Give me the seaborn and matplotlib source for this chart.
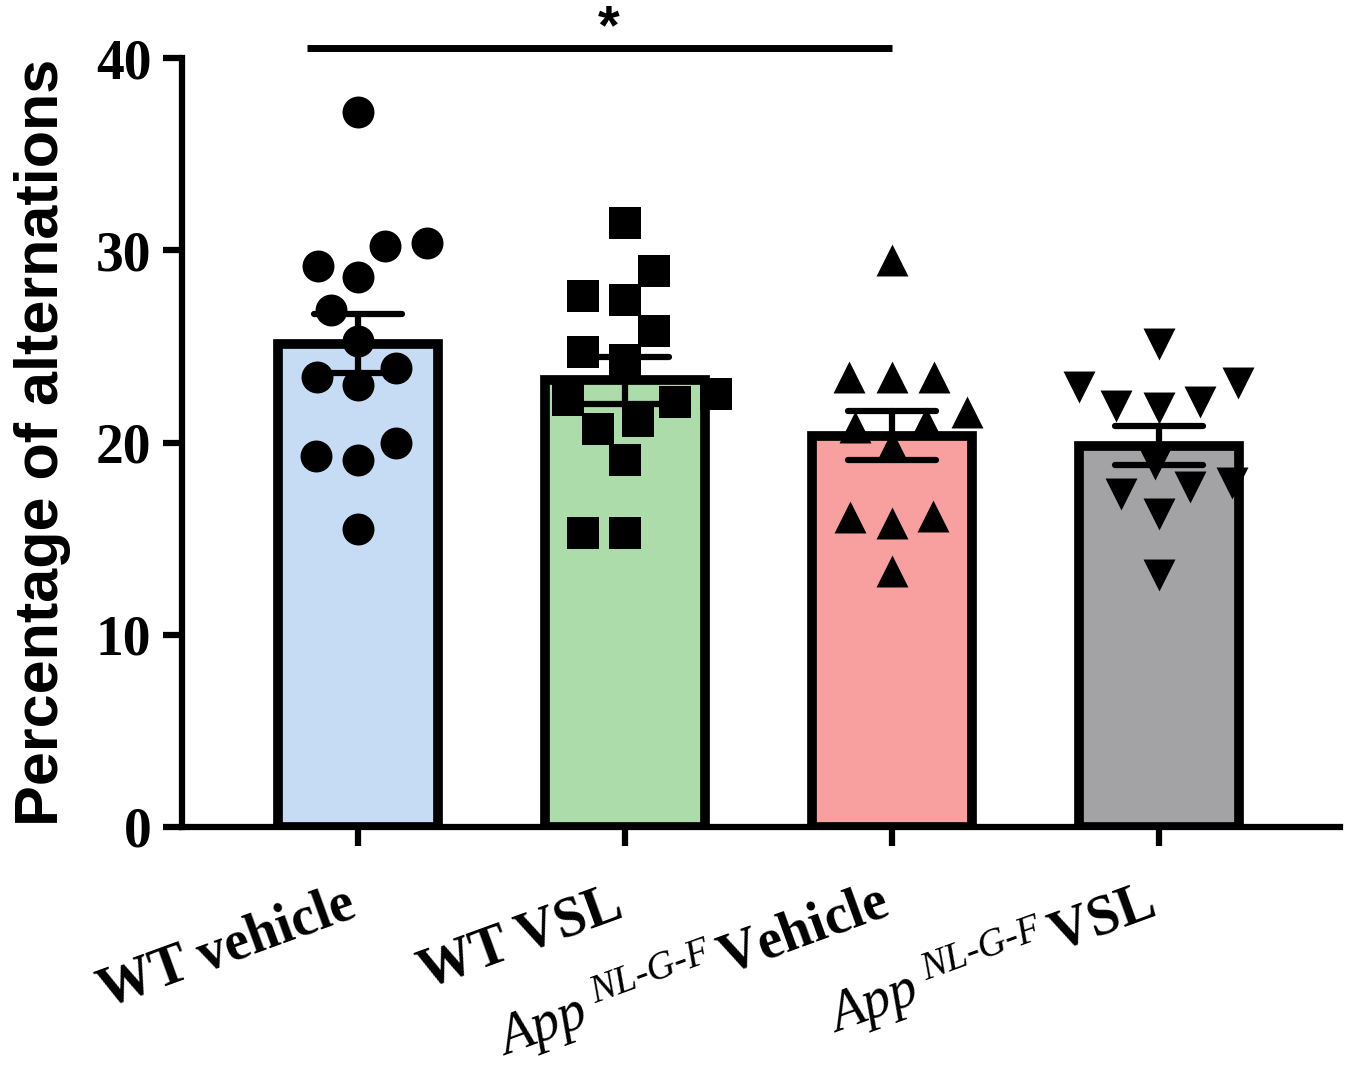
import numpy as np
import pandas as pd
import matplotlib
matplotlib.use('Agg')
import matplotlib.pyplot as plt
import seaborn as sns

# group names and the y-axis values (% alternations)
groups = ['WT vehicle', 'WT VSL', 'App vehicle', 'App VSL']
tick_labels = ['WT vehicle', 'WT VSL',
               r'$\mathit{App}^{\ \mathit{NL‐G‐F}}\,\mathbf{Vehicle}$',
               r'$\mathit{App}^{\ \mathit{NL‐G‐F}}\,\mathbf{VSL}$']

wt_vehicle = [37.2, 30.2, 30.4, 28.6, 29.2, 26.9, 25.3, 23.9, 23.0, 23.4, 19.3, 19.1, 20.0, 15.5]
wt_vsl = [31.4, 28.9, 27.4, 27.6, 25.8, 24.7, 24.3, 22.5, 22.2, 22.1, 20.7, 21.1, 19.1, 15.3, 15.3]
app_vehicle = [29.5, 23.4, 23.4, 23.4, 21.6, 21.0, 20.8, 19.8, 16.1, 15.8, 16.2, 13.3]
app_vsl = [25.1, 22.9, 23.1, 21.9, 21.8, 22.1, 18.9, 17.9, 17.3, 17.7, 16.3, 13.1]

bar_colors = ['#C6DCF5', '#ADDCAB', '#F8A09F', '#A3A3A6']
markers = ['o', 's', '^', 'v']

values = [wt_vehicle, wt_vsl, app_vehicle, app_vsl]
df = pd.DataFrame({
    'group': np.repeat(groups, [len(v) for v in values]),
    'value': np.concatenate(values),
})

sns.set_style('ticks')
plt.rcParams['font.family'] = ['Liberation Serif', 'DejaVu Sans']
plt.rcParams['mathtext.fontset'] = 'custom'
plt.rcParams['mathtext.rm'] = 'Liberation Serif'
plt.rcParams['mathtext.it'] = 'Liberation Serif:italic'
plt.rcParams['mathtext.bf'] = 'Liberation Serif:bold'
for key in ['text.color', 'axes.labelcolor', 'xtick.color', 'ytick.color', 'axes.edgecolor']:
    plt.rcParams[key] = 'black'

fig = plt.figure(figsize=(13.5, 10.75), dpi=100)
ax = fig.add_axes([0.1348, 0.2307, 0.8578, 0.7153])

sns.barplot(data=df, x='group', y='value', order=groups, hue='group',
            hue_order=groups, palette=bar_colors, saturation=1, legend=False,
            errorbar='se', capsize=0.33, width=0.6, edgecolor='black',
            linewidth=7, err_kws={'color': 'black', 'linewidth': 4.5}, ax=ax)

# swarm laid out with a roomier marker size, then markers shrunk to the real size
for g, m in zip(groups, markers):
    sns.swarmplot(data=df[df['group'] == g], x='group', y='value', order=groups,
                  marker=m, color='black', size=29, ax=ax, zorder=3)
swarms = list(ax.collections)

ax.set_xlim(-0.66, 3.68)
ax.set_ylim(0, 40)
ax.set_yticks([0, 10, 20, 30, 40])
ax.set_xticks(range(len(groups)))
ax.set_xticklabels(tick_labels)

fig.canvas.draw()
for pts in swarms:
    if 'draw' in pts.__dict__:
        del pts.draw
    pts.set_sizes([23 ** 2])

for side in ['top', 'right']:
    ax.spines[side].set_visible(False)
for side in ['left', 'bottom']:
    ax.spines[side].set_linewidth(4.5)

ax.tick_params(axis='both', width=4.5, length=14, color='black')
ax.tick_params(axis='y', labelsize=40, pad=8)
ax.tick_params(axis='x', pad=50)
for t in ax.get_yticklabels():
    t.set_fontweight('bold')
for t in ax.get_xticklabels():
    t.set_fontsize(40)
    t.set_fontweight('bold')
    t.set_rotation(20)
    t.set_ha('right')
    t.set_va('baseline')
    t.set_rotation_mode('anchor')

ax.set_xlabel('')
ax.set_ylabel('Percentage of alternations', fontsize=44, fontweight='bold',
              family='Liberation Sans')
ax.yaxis.set_label_coords(-0.096, 0.5)

# significance bar between WT vehicle and App vehicle
ax.plot([-0.19, 2.0], [40.52, 40.52], color='black', lw=5, clip_on=False,
        solid_capstyle='butt')
ax.text(0.94, 40.75, '*', ha='center', va='baseline', fontsize=40,
        fontweight='bold', family='Liberation Sans', clip_on=False)

fig.savefig('out.png', dpi=100)
